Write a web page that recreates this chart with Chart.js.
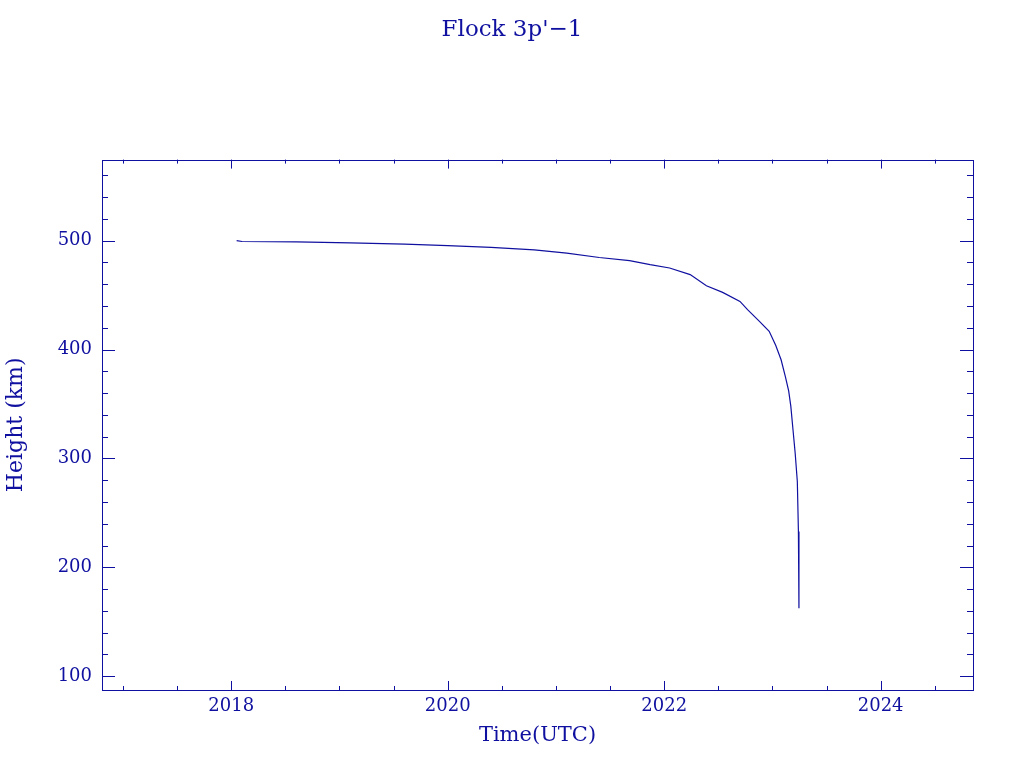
<!DOCTYPE html>
<html>
<head>
<meta charset="utf-8">
<script src="https://cdn.jsdelivr.net/npm/chart.js@4/dist/chart.umd.min.js"></script>
<style>
html,body{margin:0;padding:0;background:#fff;}
#wrap{width:1024px;height:768px;position:relative;}
</style>
</head>
<body>
<div id="wrap"><canvas id="c" width="1024" height="768"></canvas></div>
<script>
const titleText = "Flock 3p'\u22121";
const xTitle = "Time(UTC)";
const yTitle = "Height (km)";
const years = [2018.05,2018.10,2018.60,2019.10,2019.60,2020.00,2020.40,2020.80,2021.10,2021.40,2021.68,2021.87,2022.05,2022.24,2022.39,2022.54,2022.70,2022.77,2022.88,2022.97,2023.03,2023.08,2023.12,2023.15,2023.17,2023.19,2023.21,2023.23,2023.24,2023.245];
const heights = [500,499.2,498.8,497.9,496.8,495.4,493.8,491.5,488.5,484.5,481.6,477.9,474.9,468.8,458.6,452.5,444.2,436.6,425.9,416.7,404,390.6,375,362,347.8,326.3,305,278.9,232.9,162.5];
const xTickLabels = [2018,2020,2022,2024];
const yTickLabels = [100,200,300,400,500];
const xRange = [2016.806, 2024.853];
const yRange = [87.4, 574.4];

const INK = 'rgb(16,16,160)';
const FONT = "'DejaVu Serif', serif";

const frameTicks = {
  id: 'frameTicks',
  afterDraw(chart) {
    const ctx = chart.ctx, a = chart.chartArea;
    const xs = chart.scales.x, ys = chart.scales.y;
    ctx.save();
    ctx.strokeStyle = INK;
    ctx.lineWidth = 1;
    ctx.strokeRect(Math.round(a.left)+0.5, Math.round(a.top)+0.5, Math.round(a.right-a.left), Math.round(a.bottom-a.top));
    ctx.beginPath();
    for (let v = Math.ceil(xRange[0]*2)/2; v <= xRange[1]; v += 0.5) {
      const px = Math.round(xs.getPixelForValue(v)) + 0.5;
      const major = Math.abs(v/2 - Math.round(v/2)) < 1e-6;
      const L = major ? 9 : 4;
      ctx.moveTo(px, a.bottom); ctx.lineTo(px, a.bottom - L);
      ctx.moveTo(px, a.top); ctx.lineTo(px, a.top + L);
    }
    for (let v = Math.ceil(yRange[0]/20)*20; v <= yRange[1]; v += 20) {
      const py = Math.round(ys.getPixelForValue(v)) + 0.5;
      const major = v % 100 === 0;
      const L = major ? 13 : 6;
      ctx.moveTo(a.left, py); ctx.lineTo(a.left + L, py);
      ctx.moveTo(a.right, py); ctx.lineTo(a.right - L, py);
    }
    ctx.stroke();
    ctx.restore();
  }
};

new Chart(document.getElementById('c'), {
  type: 'line',
  data: {
    datasets: [{
      data: years.map((x, i) => ({x, y: heights[i]})),
      borderColor: INK,
      borderWidth: 1.2,
      pointRadius: 0,
      fill: false,
      tension: 0
    }]
  },
  options: {
    responsive: false,
    animation: false,
    layout: { padding: { left: 0, right: 0, top: 0, bottom: 20 } },
    plugins: {
      legend: { display: false },
      tooltip: { enabled: false },
      title: {
        display: true,
        text: titleText,
        color: INK,
        font: { family: FONT, size: 23, weight: 'normal' },
        padding: { top: 16, bottom: 116 }
      }
    },
    scales: {
      x: {
        type: 'linear',
        min: xRange[0], max: xRange[1],
        afterBuildTicks(s) { s.ticks = xTickLabels.map(v => ({value: v})); },
        afterFit(s) { s.height = 58; },
        grid: { display: false, drawTicks: false },
        border: { display: false },
        ticks: { color: INK, font: { family: FONT, size: 18 }, padding: 6, maxRotation: 0, callback: v => String(v) },
        title: { display: true, text: xTitle, color: INK, font: { family: FONT, size: 21 }, padding: { top: 4, bottom: 0 } }
      },
      y: {
        type: 'linear',
        min: yRange[0], max: yRange[1],
        afterBuildTicks(s) { s.ticks = yTickLabels.map(v => ({value: v})); },
        afterFit(s) { s.width = 102; },
        grid: { display: false, drawTicks: false },
        border: { display: false },
        ticks: { color: INK, font: { family: FONT, size: 18 }, padding: 10, callback: v => String(v) },
        title: { display: true, text: yTitle, color: INK, font: { family: FONT, size: 22 }, padding: { top: 3 } }
      },
      yr: {
        type: 'linear',
        position: 'right',
        min: yRange[0], max: yRange[1],
        afterFit(s) { s.width = 51; },
        grid: { display: false, drawTicks: false },
        border: { display: false },
        ticks: { display: false }
      }
    }
  },
  plugins: [frameTicks]
});
</script>
</body>
</html>
